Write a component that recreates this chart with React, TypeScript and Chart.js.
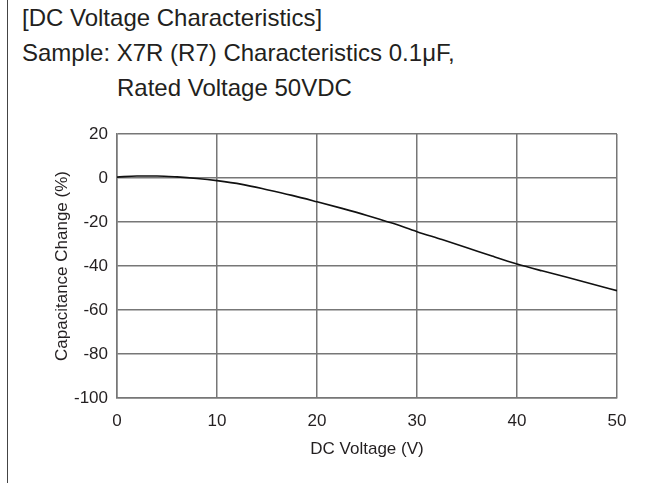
import React, { useEffect, useRef } from "react";
import { Chart, registerables } from "chart.js";

Chart.register(...registerables);

const titleLines = [
  "[DC Voltage Characteristics]",
  "Sample: X7R (R7) Characteristics 0.1μF,",
  "Rated Voltage 50VDC",
];
const xAxisTitle = "DC Voltage (V)";
const yAxisTitle = "Capacitance Change (%)";

const voltages = [0, 2, 4, 6, 8, 10, 12.5, 15, 17.5, 20, 22.5, 25, 27.5, 30, 32.5, 35, 37.5, 40, 42.5, 45, 47.5, 50];
const capChange = [0.4, 0.9, 0.9, 0.5, -0.2, -1.2, -2.9, -5.3, -7.9, -10.8, -13.8, -17.0, -20.5, -24.4, -28.0, -31.7, -35.5, -39.1, -42.2, -45.1, -48.2, -51.2];

const xMin = 0, xMax = 50, xStep = 10;
const yMin = -100, yMax = 20, yStep = 20;

const FONT = "'Liberation Sans', Arial, Helvetica, sans-serif";
const TEXT = "#231f20";
const GRID = "#777777";

export default function App() {
  const ref = useRef<HTMLCanvasElement | null>(null);

  useEffect(() => {
    if (!ref.current) return;
    const chart = new Chart(ref.current, {
      type: "line",
      data: {
        datasets: [
          {
            data: voltages.map((v, i) => ({ x: v, y: capChange[i] })),
            borderColor: "#111111",
            borderWidth: 1.6,
            pointRadius: 0,
            cubicInterpolationMode: "monotone",
            fill: false,
          },
        ],
      },
      options: {
        responsive: false,
        animation: false,
        devicePixelRatio: 1,
        layout: { padding: { top: 134, right: 33, bottom: 0, left: 0 } },
        plugins: { legend: { display: false }, tooltip: { enabled: false } },
        scales: {
          x: {
            type: "linear",
            min: xMin,
            max: xMax,
            afterFit: (s: any) => { s.height = 85; },
            ticks: { stepSize: xStep, color: TEXT, padding: 13, font: { family: FONT, size: 17 }, maxRotation: 0 },
            grid: { color: GRID, lineWidth: 1.5, drawTicks: false },
            border: { color: GRID, width: 1.5 },
            title: { display: true, text: xAxisTitle, color: TEXT, font: { family: FONT, size: 17 }, padding: { top: 4, bottom: 23 } },
          },
          y: {
            min: yMin,
            max: yMax,
            afterFit: (s: any) => { s.width = 117; },
            ticks: { stepSize: yStep, color: TEXT, padding: 9, font: { family: FONT, size: 17 } },
            grid: { color: GRID, lineWidth: 1.5, drawTicks: false },
            border: { color: GRID, width: 1.5 },
            title: { display: true, text: yAxisTitle, color: TEXT, font: { family: FONT, size: 17 }, padding: { top: 52, bottom: 0 } },
          },
        },
      },
    });
    return () => chart.destroy();
  }, []);

  return (
    <div style={{ position: "fixed", left: 0, top: 0, width: 650, height: 483, background: "#fff", overflow: "hidden" }}>
      <div style={{ position: "absolute", left: 7, top: 0, width: 1, height: 483, background: "#444" }} />
      <div style={{ position: "absolute", left: 22, top: 0, fontFamily: FONT, fontSize: 24, lineHeight: "35px", color: TEXT, whiteSpace: "nowrap" }}>
        <div>{titleLines[0]}</div>
        <div>{titleLines[1]}</div>
        <div style={{ paddingLeft: 95 }}>{titleLines[2]}</div>
      </div>
      <canvas ref={ref} width={650} height={483} style={{ position: "absolute", left: 0, top: 0, width: 650, height: 483 }} />
    </div>
  );
}
